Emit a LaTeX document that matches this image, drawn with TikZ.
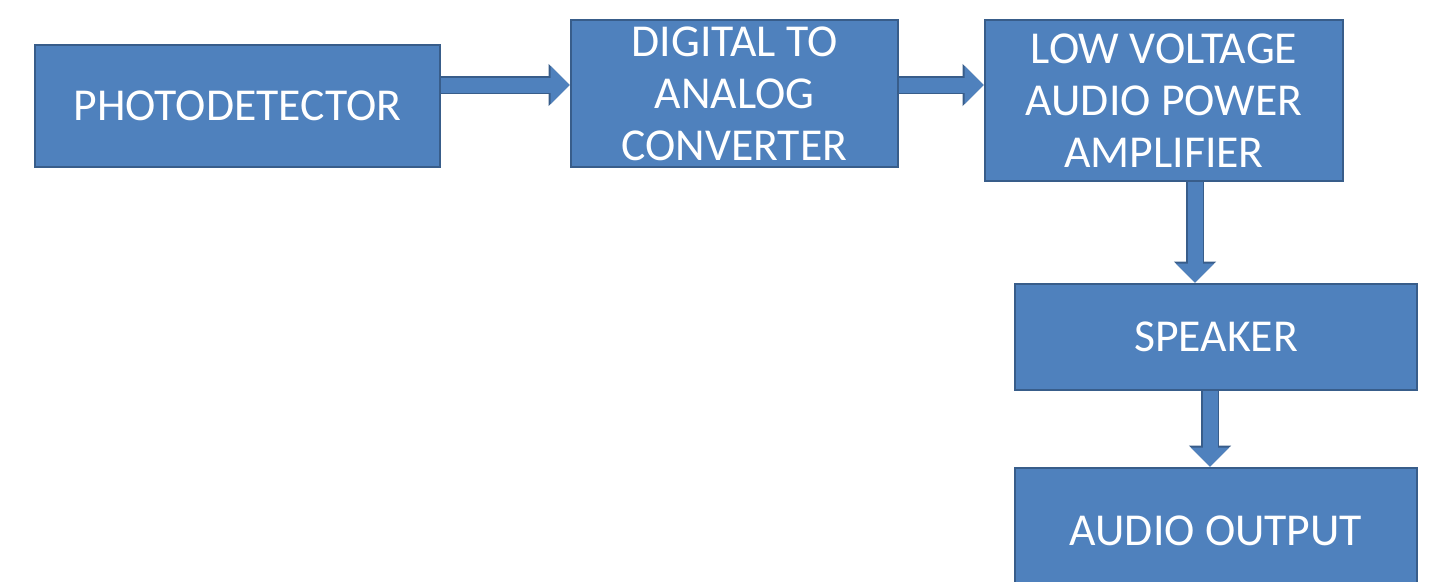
\documentclass[tikz,border=0pt]{standalone}
\usepackage{fontspec}
\setmainfont{Carlito}
\usetikzlibrary{arrows.meta}

\definecolor{boxfill}{HTML}{4F81BD}
\definecolor{boxline}{HTML}{385D8A}

\tikzset{
    block/.style={draw=boxline, fill=boxfill, line width=1.6pt, text=white,
                  align=center, inner sep=0pt, font=\fontsize{26}{29.5}\selectfont},
    flow/.style={draw=boxfill, line width=0.3cm,
                 -{Triangle[width=0.74cm, length=0.38cm]},
                 preaction={draw=boxline, line width=0.36cm,
                            -{Triangle[width=0.82cm, length=0.42cm]}}}
}

\begin{document}
\begin{tikzpicture}
    \useasboundingbox (0,0) rectangle (28.66,-11.62);

    \node[block, minimum width=8.10cm, minimum height=2.44cm] (pd) at (4.75,-2.12) {PHOTODETECTOR};
    \node[block, minimum width=6.54cm, minimum height=2.94cm] (dac) at (14.69,-1.87) {DIGITAL TO\\ANALOG\\CONVERTER};
    \node[block, minimum width=7.16cm, minimum height=3.22cm] (amp) at (23.28,-2.01) {LOW VOLTAGE\\AUDIO POWER\\AMPLIFIER};
    \node[block, minimum width=8.04cm, minimum height=2.12cm] (spk) at (24.32,-6.74) {SPEAKER};
    \node[block, minimum width=8.04cm, minimum height=2.50cm] (out) at (24.32,-10.61) {AUDIO OUTPUT};

    % lanes for the block arrows
    \coordinate (lane) at (0,-1.70);
    \coordinate (drop1) at (23.90,0);
    \coordinate (drop2) at (24.20,0);

    \draw[flow] (pd.east |- lane) -- (dac.west |- lane);
    \draw[flow] (dac.east |- lane) -- (amp.west |- lane);
    \draw[flow] (amp.south -| drop1) -- (spk.north -| drop1);
    \draw[flow] (spk.south -| drop2) -- (out.north -| drop2);

\end{tikzpicture}
\end{document}
